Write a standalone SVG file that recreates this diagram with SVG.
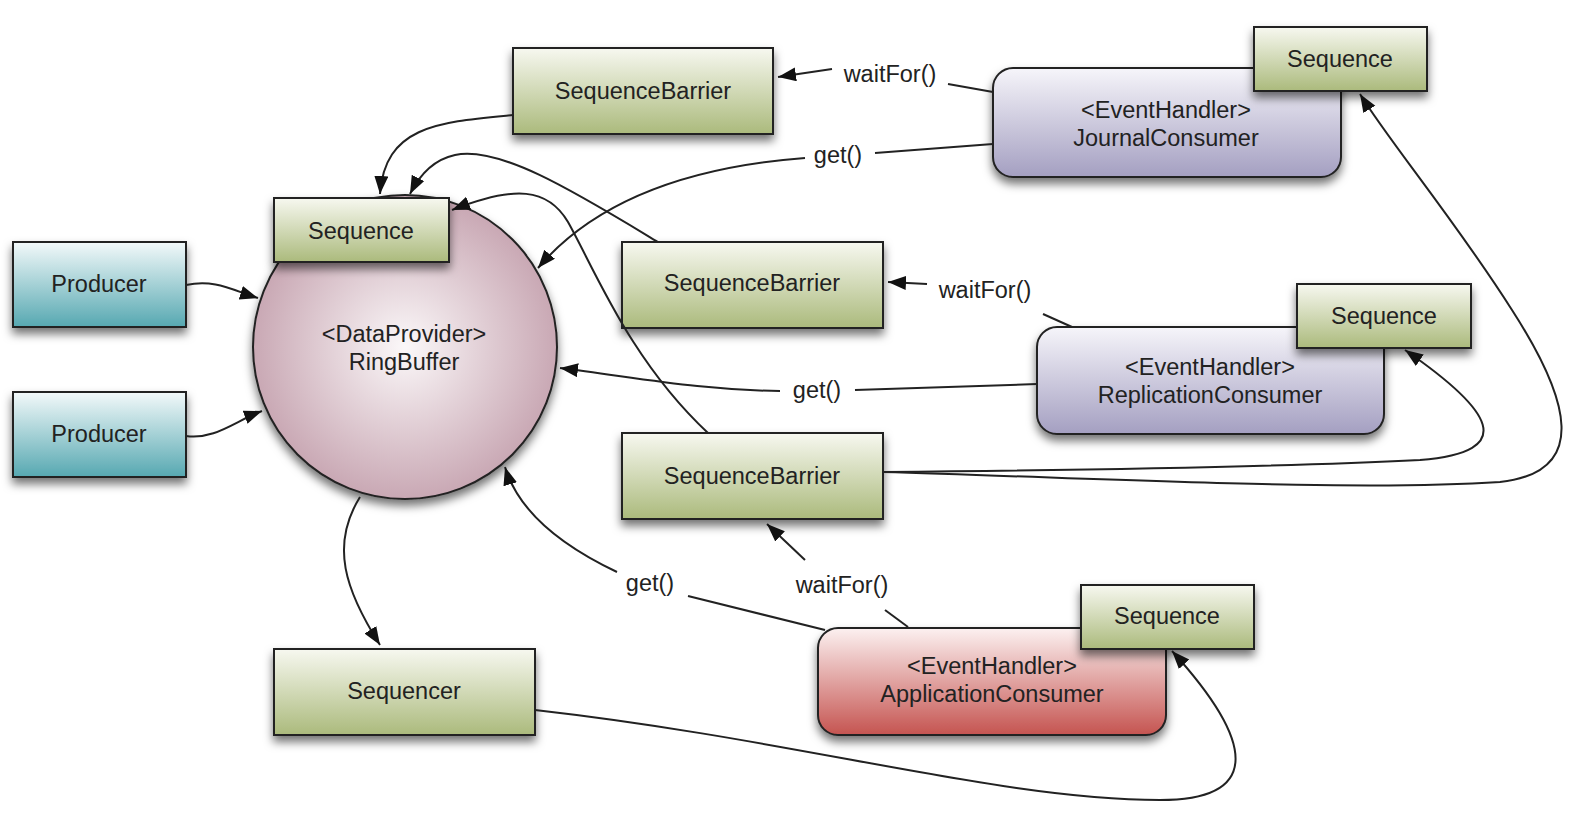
<svg xmlns="http://www.w3.org/2000/svg" width="1574" height="840" viewBox="0 0 1574 840">
<style>
text{font-family:"Liberation Sans",Arial,Helvetica,sans-serif;font-size:23.5px;fill:#222;text-anchor:middle}
.box{stroke:#222;stroke-width:2}
.g{fill:url(#gGreen)}
.t{fill:url(#gTeal)}
.p{fill:url(#gPurple)}
.r{fill:url(#gRed)}
.c{fill:none;stroke:#222;stroke-width:2}
.a{marker-end:url(#arr)}
</style>
<defs>
<linearGradient id="gGreen" x1="0" y1="0" x2="0" y2="1"><stop offset="0" stop-color="#f7f8f0"/><stop offset="1" stop-color="#abba7c"/></linearGradient>
<linearGradient id="gTeal" x1="0" y1="0" x2="0" y2="1"><stop offset="0" stop-color="#f3f9fa"/><stop offset="1" stop-color="#56a8b1"/></linearGradient>
<linearGradient id="gPurple" x1="0" y1="0" x2="0" y2="1"><stop offset="0" stop-color="#f6f5fa"/><stop offset="1" stop-color="#a49fc1"/></linearGradient>
<linearGradient id="gRed" x1="0" y1="0" x2="0" y2="1"><stop offset="0" stop-color="#fcf1f1"/><stop offset="1" stop-color="#c55450"/></linearGradient>
<radialGradient id="gRing" cx="0.5" cy="0.5" r="0.5"><stop offset="0" stop-color="#fbf8f9"/><stop offset="1" stop-color="#c9a8b4"/></radialGradient>
<filter id="sh" x="-20%" y="-20%" width="140%" height="150%"><feDropShadow dx="0" dy="6" stdDeviation="5" flood-color="#000" flood-opacity="0.55"/></filter>
<marker id="arr" markerUnits="userSpaceOnUse" markerWidth="20" markerHeight="16" refX="18" refY="7" orient="auto"><path d="M0,0 L18,7 L0,14 Z" fill="#111"/></marker>
</defs>
<rect width="1574" height="840" fill="#fff"/>
<g id="nodes">
<g id="producer1"><rect class="box t" filter="url(#sh)" x="13" y="242" width="173" height="85"/><text x="99" y="292">Producer</text></g>
<g id="producer2"><rect class="box t" filter="url(#sh)" x="13" y="392" width="173" height="85"/><text x="99" y="442">Producer</text></g>
<g id="ringbuffer"><circle class="box" fill="url(#gRing)" filter="url(#sh)" cx="405" cy="347" r="152"/><text x="404" y="342">&lt;DataProvider&gt;</text><text x="404" y="370">RingBuffer</text></g>
<g id="ringSequence"><rect class="box g" filter="url(#sh)" x="274" y="198" width="175" height="64"/><text x="361" y="239">Sequence</text></g>
<g id="barrierTop"><rect class="box g" filter="url(#sh)" x="513" y="48" width="260" height="86"/><text x="643" y="99">SequenceBarrier</text></g>
<g id="barrierMid"><rect class="box g" filter="url(#sh)" x="622" y="242" width="261" height="86"/><text x="752" y="291">SequenceBarrier</text></g>
<g id="barrierBottom"><rect class="box g" filter="url(#sh)" x="622" y="433" width="261" height="86"/><text x="752" y="484">SequenceBarrier</text></g>
<g id="sequencer"><rect class="box g" filter="url(#sh)" x="274" y="649" width="261" height="86"/><text x="404" y="699">Sequencer</text></g>
<g id="journalConsumer"><rect class="box p" filter="url(#sh)" x="993" y="68" width="348" height="109" rx="20"/><text x="1166" y="118">&lt;EventHandler&gt;</text><text x="1166" y="146">JournalConsumer</text></g>
<g id="journalSequence"><rect class="box g" filter="url(#sh)" x="1254" y="27" width="173" height="64"/><text x="1340" y="67">Sequence</text></g>
<g id="replicationConsumer"><rect class="box p" filter="url(#sh)" x="1037" y="327" width="347" height="107" rx="20"/><text x="1210" y="375">&lt;EventHandler&gt;</text><text x="1210" y="403">ReplicationConsumer</text></g>
<g id="replicationSequence"><rect class="box g" filter="url(#sh)" x="1297" y="284" width="174" height="64"/><text x="1384" y="324">Sequence</text></g>
<g id="applicationConsumer"><rect class="box r" filter="url(#sh)" x="818" y="628" width="348" height="107" rx="20"/><text x="992" y="674">&lt;EventHandler&gt;</text><text x="992" y="702">ApplicationConsumer</text></g>
<g id="applicationSequence"><rect class="box g" filter="url(#sh)" x="1081" y="585" width="173" height="64"/><text x="1167" y="624">Sequence</text></g>
</g>
<g id="connectors">
<path class="c a" d="M186,285 C215,279 232,290 258,298"/>
<path class="c a" d="M186,436 C215,440 235,421 262,411"/>
<path class="c a" d="M513,115 C440,122 385,125 380,194"/>
<path class="c" d="M993,92 L948,84"/>
<path class="c a" d="M832,69 L778,77"/>
<text x="890" y="82">waitFor()</text>
<path class="c" d="M993,144 L875,153"/>
<text x="838" y="163">get()</text>
<path class="c a" d="M805,158 C700,166 600,195 538,268"/>
<path class="c a" d="M658,242 C580,195 500,145 455,155 C432,160 418,178 410,194"/>
<path class="c a" d="M708,433 C630,360 595,270 568,222 C548,188 515,185 452,210"/>
<path class="c" d="M1072,327 L1043,314"/>
<text x="985" y="298">waitFor()</text>
<path class="c a" d="M927,284 L888,282"/>
<path class="c" d="M1037,384 L855,390"/>
<text x="817" y="398">get()</text>
<path class="c a" d="M780,391 C700,390 640,378 560,368"/>
<path class="c a" d="M883,472 C1100,470 1300,466 1420,460 C1520,452 1492,410 1405,350"/>
<path class="c a" d="M883,472 C1100,478 1350,492 1500,482 C1590,472 1570,400 1512,310 C1455,220 1388,140 1360,94"/>
<path class="c" d="M908,627 L885,610"/>
<text x="842" y="593">waitFor()</text>
<path class="c a" d="M805,560 L767,524"/>
<path class="c" d="M825,630 L688,596"/>
<text x="650" y="591">get()</text>
<path class="c a" d="M617,572 C560,545 518,510 505,467"/>
<path class="c a" d="M360,497 C330,545 345,590 380,645"/>
<path class="c a" d="M535,710 C800,740 1000,800 1160,800 C1255,800 1262,750 1172,651"/>
</g>
</svg>
